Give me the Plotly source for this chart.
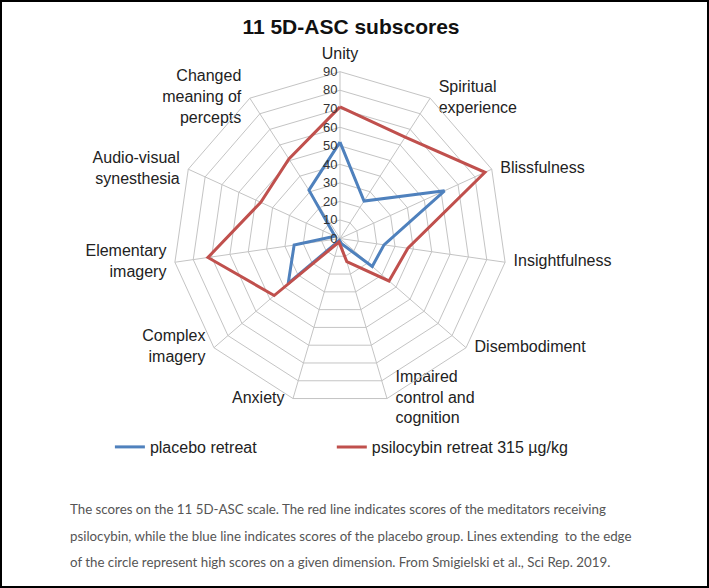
import plotly.graph_objects as go

categories = ["Unity", "Spiritual<br>experience", "Blissfulness", "Insightfulness",
              "Disembodiment", "Impaired<br>control and<br>cognition", "Anxiety",
              "Complex<br>imagery", "Elementary<br>imagery", "Audio-visual<br>synesthesia",
              "Changed<br>meaning of<br>percepts"]
placebo = [52, 24, 62, 24, 23, 3, 1, 37, 25, 3, 31]
psilocybin = [71, 65, 86, 37, 35, 13, 2, 47, 72, 47, 51]
radial_ticks = [0, 10, 20, 30, 40, 50, 60, 70, 80, 90]

caption_lines = [
    "The scores on the 11 5D-ASC scale. The red line indicates scores of the meditators receiving",
    "psilocybin, while the blue line indicates scores of the placebo group. Lines extending  to the edge",
    "of the circle represent high scores on a given dimension. From Smigielski et al., Sci Rep. 2019.",
]

W, H = 709, 588
cx, cy, R = 340, 238.5, 166.8
RMAX = 90

label_pos = ["top center"] + ["middle right"] * 5 + ["middle left"] * 5

fig = go.Figure()
fig.add_trace(go.Scatterpolar(
    r=placebo + placebo[:1], theta=categories + categories[:1],
    mode="lines", name="placebo retreat", hoverinfo="skip", legend="legend",
    line=dict(color="#4F81BD", width=3)))
fig.add_trace(go.Scatterpolar(
    r=psilocybin + psilocybin[:1], theta=categories + categories[:1],
    mode="lines", name="psilocybin retreat 315 µg/kg", hoverinfo="skip", legend="legend2",
    line=dict(color="#C0504D", width=3)))
# category labels placed at the outer ring, Excel-style
fig.add_trace(go.Scatterpolar(
    r=[RMAX] * len(categories), theta=categories, text=categories,
    mode="markers+text", textposition=label_pos, cliponaxis=False,
    marker=dict(size=12, opacity=0), showlegend=False, hoverinfo="skip",
    textfont=dict(family="Liberation Sans, Arial", size=16, color="#222")))

legend_common = dict(orientation="h", xanchor="left", y=(H - 447) / H, yanchor="middle",
                     font=dict(size=16, color="#222"), bgcolor="rgba(0,0,0,0)")

fig.update_layout(
    width=W, height=H,
    margin=dict(l=0, r=0, t=0, b=0),
    paper_bgcolor="white",
    font=dict(family="Liberation Sans, Arial", color="#222"),
    title=dict(text="<b>11 5D-ASC subscores</b>", x=0.495, xanchor="center",
               y=1 - 27 / H, yanchor="middle", yref="container",
               font=dict(size=21, color="#111")),
    polar=dict(
        domain=dict(x=[(cx - R) / W, (cx + R) / W], y=[(H - cy - R) / H, (H - cy + R) / H]),
        bgcolor="white",
        gridshape="linear",
        angularaxis=dict(direction="clockwise", rotation=90, type="category",
                         categoryarray=categories, showticklabels=False,
                         gridcolor="#c4c4c4", linecolor="#c4c4c4", showline=True,
                         ticks=""),
        radialaxis=dict(range=[0, RMAX], tickvals=radial_ticks, angle=90, tickangle=90,
                        side="counterclockwise", showline=False, ticks="",
                        gridcolor="#c4c4c4", tickfont=dict(size=13, color="#333")),
    ),
    legend=dict(x=0.155, **legend_common),
    legend2=dict(x=0.468, **legend_common),
    shapes=[dict(type="rect", xref="paper", yref="paper", x0=1 / W, x1=1 - 1 / W,
                 y0=1 / H, y1=1 - 1 / H, line=dict(color="black", width=2))],
)

for i, line in enumerate(caption_lines):
    y_px = 509 + 26.5 * i
    fig.add_annotation(text=line, xref="paper", yref="paper", x=68 / W, xanchor="left",
                       y=(H - y_px) / H, yanchor="middle", showarrow=False, align="left",
                       font=dict(family="Lato", size=13.3, color="#555"))

fig.write_html("out.html", config={"displayModeBar": False},
               post_script="document.body.style.margin='0';document.body.style.overflow='hidden';")
